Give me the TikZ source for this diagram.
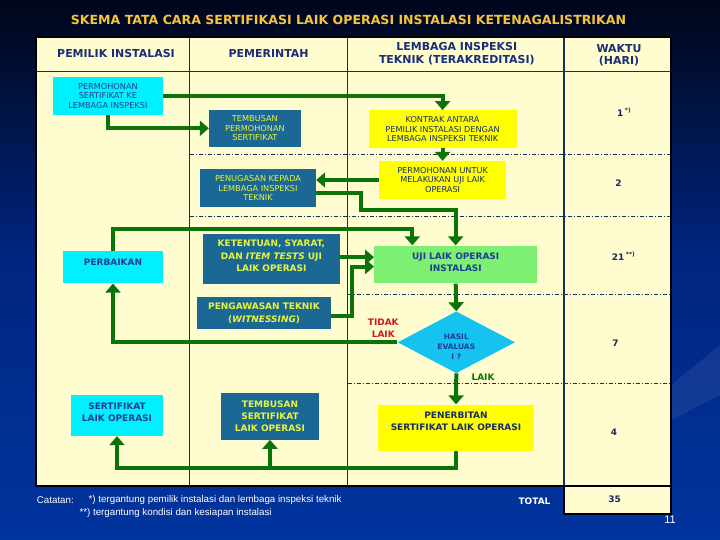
\documentclass[tikz,border=0pt]{standalone}
\usepackage{fontspec}
\setmainfont{DejaVu Sans}
\newfontfamily\notefont{Liberation Sans}
\usetikzlibrary{arrows.meta,calc,shapes.geometric}
\definecolor{bgtop}{RGB}{0,6,26}
\definecolor{bgmid}{RGB}{0,38,128}
\definecolor{bgbot}{RGB}{0,52,158}
\definecolor{cream}{RGB}{255,253,208}
\definecolor{navyc}{RGB}{22,45,100}
\definecolor{hdrc}{RGB}{25,45,120}
\definecolor{cyanc}{RGB}{0,240,255}
\definecolor{tealc}{RGB}{28,104,148}
\definecolor{yelc}{RGB}{232,245,60}
\definecolor{dbluec}{RGB}{30,60,150}
\definecolor{yboxc}{RGB}{255,255,0}
\definecolor{greenc}{RGB}{125,240,115}
\definecolor{diac}{RGB}{20,195,240}
\definecolor{grn}{RGB}{10,115,10}
\definecolor{redc}{RGB}{205,25,25}
\definecolor{titlec}{RGB}{245,195,60}
\definecolor{numc}{RGB}{20,40,95}
\newcommand{\fsm}{\fontsize{8.2}{9.6}\selectfont}
\newcommand{\fbg}{\bfseries\fontsize{9}{12.4}\selectfont}
\begin{document}
\begin{tikzpicture}[x=1bp,y=-1bp,
  arr/.style={draw=grn, line width=4bp, -{Triangle[length=9bp,width=15bp]}},
  bx/.style={inner sep=0pt, align=center},
  cbox/.style={bx, fill=cyanc, text=dbluec},
  tbox/.style={bx, fill=tealc, text=yelc},
  ybx/.style={bx, fill=yboxc, text=navyc},
  gbox/.style={bx, fill=greenc, text=dbluec},
  hdr/.style={align=center, text=hdrc, font=\bfseries\fontsize{11}{14}\selectfont},
  num/.style={text=numc, font=\bfseries\fontsize{9}{11}\selectfont},
  note/.style={text=white, font=\notefont\fontsize{9.8}{11}\selectfont, anchor=west, inner sep=0pt},
  dd/.style={draw=navyc, line width=0.7bp, dash pattern=on 4bp off 2bp on 1bp off 2bp},
  col/.style={draw=navyc, line width=1.4bp},
  frame/.style={draw=black, line width=2.2bp}]
\useasboundingbox (0,0) rectangle (720,540);
% background
\shade[top color=bgtop,bottom color=bgmid] (0,0) rectangle (720,262);
\shade[top color=bgmid,bottom color=bgbot] (0,261.5) rectangle (720,540);
\fill[white, opacity=0.07] (600,450) .. controls (650,400) and (690,370) .. (720,345) -- (720,395) .. controls (690,410) and (650,430) .. (600,465) -- cycle;
% title
\node[text=titlec, font=\bfseries\fontsize{12.6}{14}\selectfont] (title) at (348.5,20) {SKEMA TATA CARA SERTIFIKASI LAIK OPERASI INSTALASI KETENAGALISTRIKAN};
% table
\fill[cream] (35.8,37.2) rectangle (671,486.2);
\fill[cream] (563.8,486.2) rectangle (671,513.8);
\draw[dd] (189.6,154.3) -- (671,154.3);
\draw[dd] (189.6,216.7) -- (671,216.7);
\draw[dd] (347.6,294) -- (671,294);
\draw[dd] (347.6,383) -- (671,383);
\draw[col] (35.8,71.7) -- (671,71.7);
\draw[col] (189.6,37.2) -- (189.6,486.2);
\draw[col] (347.6,37.2) -- (347.6,486.2);
\draw[col] (563.8,37.2) -- (563.8,486.2);
\draw[frame] (35.8,37.2) rectangle (671,486.2);
\draw[frame] (563.8,486.2) rectangle (671,513.8);
% headers
\node[hdr] (h1) at (116,53.4) {PEMILIK INSTALASI};
\node[hdr] (h2) at (268.6,53.4) {PEMERINTAH};
\node[hdr] (h3) at (456.8,53.6) {LEMBAGA INSPEKSI\\[-1.5bp]TEKNIK (TERAKREDITASI)};
\node[hdr] (h4) at (619,55.3) {WAKTU\\[-1.5bp](HARI)};
% boxes
\node[cbox, font=\fsm, minimum width=110.2bp, minimum height=37.6bp] (perm) at (107.9,96) {PERMOHONAN\\SERTIFIKAT KE\\LEMBAGA INSPEKSI};
\node[tbox, font=\fsm, minimum width=91.7bp, minimum height=37.3bp] (tembP) at (254.9,128.3) {TEMBUSAN\\PERMOHONAN\\SERTIFIKAT};
\node[ybx, font=\fsm, minimum width=147.8bp, minimum height=38bp] (kontrak) at (442.6,129.3) {KONTRAK ANTARA\\PEMILIK INSTALASI DENGAN\\LEMBAGA INSPEKSI TEKNIK};
\node[ybx, font=\fsm, minimum width=127.6bp, minimum height=38bp] (permU) at (442.6,180) {PERMOHONAN UNTUK\\MELAKUKAN UJI LAIK\\OPERASI};
\node[tbox, font=\fsm, minimum width=116bp, minimum height=38bp] (penug) at (258,188) {PENUGASAN KEPADA\\LEMBAGA INSPEKSI\\TEKNIK};
\node[cbox, minimum width=100bp, minimum height=32.4bp] (perb) at (113,267.2) {};
\node[text=dbluec, font=\fbg] (perbt) at (113,262.3) {PERBAIKAN};
\node[tbox, minimum width=136.8bp, minimum height=50.7bp] (ket) at (271.4,259) {};
\node[text=yelc, font=\fbg, align=center] (kett) at (271.4,256) {KETENTUAN, SYARAT,\\DAN \textit{ITEM TESTS} UJI\\LAIK OPERASI};
\node[tbox, font=\fbg, minimum width=133.2bp, minimum height=32.3bp] (peng) at (264,313.2) {PENGAWASAN TEKNIK\\(\textit{WITNESSING})};
\node[gbox, minimum width=163bp, minimum height=37.9bp] (uji) at (455.7,264.5) {};
\node[text=dbluec, font=\fbg, align=center] (ujit) at (455.7,262.5) {UJI LAIK OPERASI\\INSTALASI};
\node[diamond, fill=diac, minimum width=117.4bp, minimum height=61.7bp, inner sep=0pt] (diam) at (456.3,342.3) {};
\node[text=dbluec, align=center, font=\bfseries\fontsize{7.5}{10}\selectfont] (diamt) at (456.3,346.5) {HASIL\\EVALUAS\\I ?};
\node[ybx, minimum width=156bp, minimum height=46.5bp] (pen) at (456,427.8) {};
\node[text=navyc, font=\fbg, align=center] (pent) at (456,421.6) {PENERBITAN\\SERTIFIKAT LAIK OPERASI};
\node[cbox, minimum width=92bp, minimum height=41bp] (sert) at (117,415.5) {};
\node[text=dbluec, font=\fbg, align=center] (sertt) at (117,412.3) {SERTIFIKAT\\LAIK OPERASI};
\node[tbox, font=\fbg, minimum width=98bp, minimum height=46.7bp] (tembS) at (270,416.3) {TEMBUSAN\\SERTIFIKAT\\LAIK OPERASI};
% bend points
\coordinate (b1) at (361.3,210.3);
\coordinate (b2) at (412.3,228.6);
\coordinate (b3) at (351.7,266.6);
\coordinate (b4) at (117,468.3);
\coordinate (k1) at ($(ket.east)+(0,-1.8)$);
\coordinate (p1) at ($(peng.east)+(0,2.7)$);
\coordinate (q1) at ($(penug.east)+(0,5.4)$);
% connectors
\draw[arr] (perm.east) -| (kontrak.north);
\draw[arr] (perm.south) |- (tembP.west);
\draw[arr] (kontrak.south) -- (permU.north);
\draw[arr] (permU.west) -- (permU.west -| penug.east);
\draw[arr] (q1) -| (b1) -| (uji.north);
\draw[arr] (perb.north) |- (b2) -- (b2 |- uji.north);
\draw[arr] (k1) -- (k1 -| uji.west);
\draw[arr] (p1) -| (b3) -- (b3 -| uji.west);
\draw[arr] (uji.south) -- (diam.north);
\draw[arr] (diam.west) -| (perb.south);
\draw[arr] (diam.south) -- (pen.north);
\draw[arr] (pen.south) |- (b4) -- (sert.south);
\draw[arr] (tembS.south |- b4) -- (tembS.south);
% labels
\node[text=redc, align=center, font=\bfseries\fontsize{9}{12}\selectfont] (tidak) at (383.3,328) {TIDAK\\LAIK};
\node[text=grn, font=\bfseries\fontsize{9}{11}\selectfont] (laik) at (483,377) {LAIK};
% waktu
\node[num, anchor=west, inner sep=0pt] (w1) at (617,112.5) {1\,\textsuperscript{*)}};
\node[num] (w2) at (618.5,183.3) {2};
\node[num, anchor=west, inner sep=0pt] (w3) at (611.7,256) {21\,\textsuperscript{**)}};
\node[num] (w4) at (615.5,343.3) {7};
\node[num] (w5) at (614,432.7) {4};
\node[num] (w6) at (614.6,499.3) {35};
\node[text=white, font=\bfseries\fontsize{9}{11}\selectfont] (total) at (534.5,501.3) {TOTAL};
% notes
\node[note] (cat1) at (36.7,500) {Catatan:};
\node[note] (cat2) at (88.5,500) {*) tergantung pemilik instalasi dan lembaga inspeksi teknik};
\node[note] (cat3) at (79.3,512.7) {**) tergantung kondisi dan kesiapan instalasi};
\node[text=white, font=\notefont\fontsize{11}{12}\selectfont] (pg) at (670,520) {11};
\end{tikzpicture}
\end{document}
